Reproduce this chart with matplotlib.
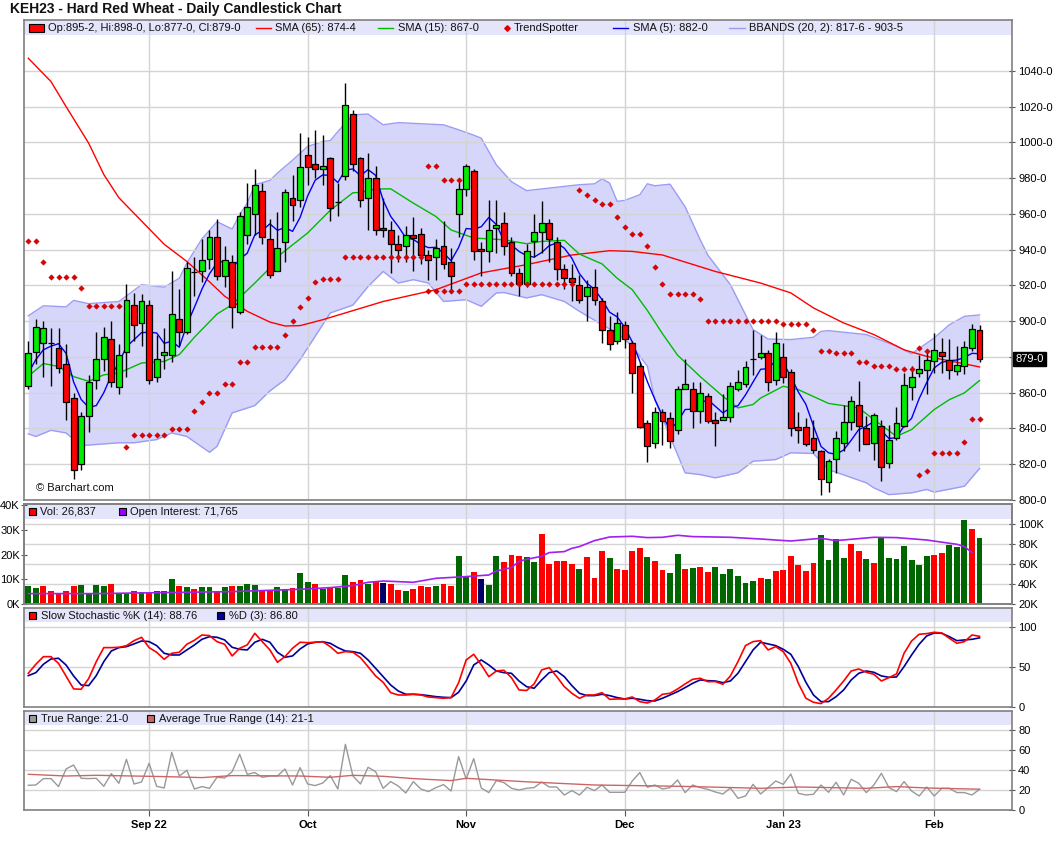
import numpy as np
import pandas as pd
import matplotlib
matplotlib.use("Agg")
import matplotlib.pyplot as plt
from matplotlib.patches import Rectangle
from matplotlib.lines import Line2D

plt.rcParams['font.family'] = ['Liberation Sans', 'DejaVu Sans']

# ---- daily candles (trading-day index 0..126) ----
opens = [864, 883, 888, 888, 885, 876, 857, 820, 847, 867, 879, 890, 863, 883, 909, 899, 909, 869, 881, 881,
         901, 894, 927.5, 928, 935, 947, 925, 933, 905, 948, 960, 973, 946, 928, 944, 969, 968, 993, 988, 985,
         991, 966.6, 981, 1016, 991, 969, 980, 952, 951, 943, 942, 948, 949, 937, 936, 942, 933, 960, 974, 984,
         940.5, 939, 952, 955, 944, 927, 921, 945, 950, 955, 944, 929, 924, 920, 914, 919, 911, 895, 889, 898,
         888, 875, 843, 832, 849, 846, 839, 862, 862, 850, 858, 845, 845, 846.5, 862, 865, 879, 880, 882, 867,
         880, 871.6, 841, 841, 834.7, 827.5, 810.2, 823, 832, 843.7, 853.4, 840.3, 832, 841.2, 820.8, 834.7, 841.6, 863, 871, 872.9,
         878, 882.8, 878.5, 872, 875.1, 885, 895.2]
highs = [889, 901, 900, 896, 896, 887, 860, 849, 870, 894, 897, 900, 887, 921, 916, 915, 912, 892, 896, 928,
         918, 933, 936, 946, 951, 957, 942, 937, 961, 977, 985, 977, 957, 961, 974, 982, 1005, 1003, 1007, 1004,
         992, 977, 1033, 1018, 992, 994, 987, 969, 956, 948, 953, 958, 952, 940, 946, 956, 941, 978, 988, 985,
         944, 968, 968, 961, 947, 930, 943, 960, 967, 957, 947, 932, 932, 926, 923, 929, 913, 903, 905, 900,
         889, 877, 845, 852, 851, 849, 864, 879, 866, 866, 860, 849, 859, 866, 872.5, 877.5, 895, 892, 884, 894,
         888, 873, 849, 846, 845, 828.2, 823, 838.8, 853.4, 858.4, 866.4, 846.8, 848.7, 845, 842.2, 851.8, 871, 874.7, 881.3, 883,
         893.4, 890.6, 890, 886.3, 888.7, 898.6, 898]
lows = [862, 876, 869, 864, 871, 845, 812, 817, 838, 862, 872, 863, 859, 869, 889, 886, 865, 866, 873, 877,
        886, 893, 914, 922, 929, 923, 919, 896, 904, 943, 948, 943, 924, 928, 933, 956, 964, 976, 980, 976,
        956, 959, 979, 984, 964, 951, 948, 947, 927, 933, 933, 928, 932, 923, 923, 929, 916, 947, 970, 934,
        925, 933, 938, 937, 925, 914, 919, 936, 938, 933, 923, 918, 911, 910, 900, 909, 888, 884, 887, 885,
        860, 840, 821, 829, 831, 829, 837, 862, 840, 843, 843, 830, 845, 843.5, 861, 863, 870, 879, 861, 864.5,
        865.5, 836, 832, 830, 826.4, 802.7, 804.4, 815.2, 827.3, 839.4, 827.3, 831.4, 822.6, 810.5, 818, 833.8, 841, 856, 869, 859,
        871, 871, 867.7, 870, 870.7, 883.5, 877]
closes = [882, 897, 896, 888, 874, 855, 817, 847, 866, 879, 891, 866, 881, 912, 898, 911, 867, 879, 883, 904,
          894, 930, 927.5, 934, 947, 925, 934, 908, 959, 964, 976, 947, 926, 941, 972, 965, 986, 986, 985, 987,
          963, 966.6, 1021, 988, 968, 980, 951, 951, 943, 940, 948, 946.5, 937, 934, 941, 932, 925, 974, 987, 939,
          939, 951, 954, 942, 927, 921, 939, 950, 955, 946, 929, 924, 922, 912, 919, 912, 895, 887, 899, 890,
          871, 841, 830, 849, 844, 833, 862, 865, 850, 860, 844, 843, 846.5, 864, 866, 874.4, 879, 882, 866, 888,
          869, 840, 839, 831.4, 828, 811.5, 822, 834.7, 843.7, 855.2, 841.2, 831.4, 847.6, 818.5, 833.4, 843.1, 864.5, 868.8, 873.5, 878.5,
          884, 880.3, 872.9, 875.7, 885.6, 895.6, 879]

# ---- overlays (index, value) ----
sma5_head = [871, 878.5, 884, 886]
sma15_idx = [0, 2, 4, 6, 8, 10, 12, 15, 18, 20, 22, 25, 27, 30, 32, 33, 37, 40, 43, 44, 46, 48, 51, 54, 56, 59, 63,
             66, 68, 71, 73, 76, 78, 80, 82, 84, 86, 89, 92, 94, 96, 97, 100, 102, 106, 110, 112, 115, 117, 120, 122, 124, 126]
sma15_val = [869.2, 876.3, 874.7, 869, 866.4, 870, 871, 876.6, 877.5, 881.3, 891, 904, 909.2, 921.3, 929.7, 936, 949.3,
             962, 971.8, 972, 973.9, 974, 966, 958.5, 951, 946.5, 945.5, 943.3, 944.6, 945.2, 937.5, 932, 924, 917.6,
             906, 893, 881, 869, 858, 851.5, 853.4, 857, 863.6, 861.7, 854, 851.5, 845, 835.6, 839.4, 850.6, 856.1, 859.9, 866.8]
sma65_idx = [0, 3, 5, 8, 10, 12, 15, 18, 21, 24, 26, 29, 32, 34, 36, 39, 47, 54, 60, 66, 72, 77, 80, 84, 91, 97,
             101, 104, 108, 112, 116, 119, 123, 126]
sma65_val = [1047, 1034, 1020, 999.5, 982, 969, 956, 943, 933.4, 922, 914, 905.5, 899.5, 897.3, 897.5, 900.8, 911, 917.6,
             927, 931.6, 937, 939.4, 939, 937, 927.8, 921.3, 915.8, 907.4, 899, 892.5, 884, 880.3, 877, 874.4]
bbu_idx = [0, 2, 5, 6, 8, 12, 15, 18, 20, 21, 23, 25, 27, 28, 29, 30, 32, 33, 35, 37, 39, 40, 41, 43, 45, 47, 49, 55,
           57, 59, 60, 62, 64, 66, 73, 75, 76, 77, 78, 79, 81, 82, 83, 85, 87, 89, 90, 93, 95, 96, 98, 101, 104, 105,
           106, 111, 115, 117, 120, 122, 124, 126]
bbu_val = [903, 908.6, 908, 911.6, 909.8, 911, 920.4, 919, 924, 932.5, 946, 955.6, 951.5, 959.5, 966, 976.3, 978.7,
           982.8, 990, 997.7, 1000.4, 1001, 1006, 1015.4, 1015.8, 1009.8, 1011, 1009.8, 1007, 1004, 1002.3, 987.4, 978,
           973, 976.3, 976.8, 979.6, 977.2, 967, 967.5, 970.7, 976.8, 975.7, 976.6, 964, 945.5, 937, 920.4, 903.6,
           895.3, 890, 889.7, 891, 894.3, 894.7, 892.5, 886, 881.8, 890.6, 898, 902.7, 903.5]
bbl_idx = [0, 1, 3, 5, 7, 12, 14, 17, 19, 21, 24, 25, 27, 30, 32, 34, 36, 40, 43, 45, 47, 49, 51, 53, 55, 58, 60,
           62, 63, 66, 68, 71, 73, 76, 78, 80, 82, 83, 85, 87, 89, 91, 94, 96, 99, 101, 104, 106, 111, 112, 114, 117,
           119, 120, 124, 126]
bbl_val = [837, 835.5, 839, 837.5, 830.4, 832, 832, 833.8, 837.5, 835.5, 826.7, 830, 848.7, 852.8, 861, 867.3, 878.5,
           904.6, 909, 919.4, 927.8, 921.3, 923.2, 921.3, 911, 912, 908.3, 915.8, 916, 913, 914.8, 911, 905.5, 898,
           893.4, 886, 874.8, 856, 835.6, 815.2, 814.2, 812.4, 815.2, 821.7, 822.6, 826.4, 826, 817, 809.6, 806.8, 803,
           804, 805.9, 804.4, 807.7, 817.6]
ts_idx = [0, 1, 2, 3, 4, 5, 6, 7, 8, 9, 10, 11, 12, 13, 14, 15, 16, 17, 18, 19, 20, 21, 22, 23, 24, 25, 26, 27, 28,
          29, 30, 31, 32, 33, 34, 35, 36, 37, 38, 39, 40, 41, 42, 43, 44, 45, 46, 47, 48, 49, 50, 51, 52,
          53, 54, 55, 56, 57, 53, 54, 55, 56, 57,
          58, 59, 60, 61, 62, 63, 64, 65, 66, 67, 68, 69, 70, 71, 72, 73, 74, 75, 76, 77, 78, 79, 80, 81, 82, 83,
          84, 85, 86, 87, 88, 89, 90, 91, 92, 93, 94, 95, 96, 97, 98, 99, 100, 101, 102, 103, 104, 105, 106, 107,
          108, 109, 110, 111, 112, 113, 114, 115, 116, 117, 118, 119, 118, 119, 120, 121, 122, 123, 124, 125, 126]
ts_val = [945, 945, 933, 924.7, 924.7, 924.7, 924.7, 918.5, 908.3, 908.3, 908.3, 908.3, 908.3, 829.7, 836.6, 836.6,
          836.6, 836.6, 836.6, 839.8, 839.8, 839.8, 849.8, 854.8, 859.9, 859.9, 864.9, 864.9, 877.2, 877.2, 885.6,
          885.6, 885.6, 885.6, 892.3, 900.3, 908, 913, 922, 923.7, 923.7, 923.7, 935.9, 935.9, 935.9, 935.9, 935.9,
          935.9, 935.9, 935.9, 935.9, 935.9, 935.9,
          916.6, 916.6, 916.6, 916.6, 916.6, 986.5, 986.5, 979, 979, 979,
          921, 921, 921, 921, 921, 921, 921, 921, 921, 921, 921, 921, 921, 921, 921, 973.5, 970.5, 968, 965.5,
          965.5, 958.2, 952.6, 949, 949, 942.2, 930.3, 920.8, 915.2, 915.2, 915.2, 915.2, 912.6, 900.3, 900.3, 900.3,
          900.3, 900.3, 900.3, 900.3, 900.3, 900.3, 900.3, 898.6, 898.6, 898.6, 898.6, 895.3, 883.5, 883.5, 882.2,
          882.2, 882.2, 877.2, 877.2, 875, 875, 875, 873.4, 873.4, 873.4, 885, 883.5, 813.7, 816, 826.4, 826.4,
          826.4, 826.4, 832.5, 845.4, 845.4]

# ---- volume (K) and open interest (K) ----
volume = [7.4, 6.6, 7.4, 5.4, 4.6, 5.4, 7.4, 7.8, 4.6, 7.8, 7.4, 8.2, 4.6, 4.2, 5.4, 5.0, 4.6, 5.4, 5.4, 10.2,
          7.4, 7.0, 6.2, 7.0, 7.0, 5.4, 7.0, 7.4, 7.4, 8.2, 7.8, 5.8, 5.4, 7.0, 6.2, 6.6, 12.6, 9.0, 8.2, 6.2,
          7.0, 6.6, 11.8, 9.0, 9.8, 8.2, 9.0, 8.6, 8.2, 5.8, 5.4, 6.2, 7.4, 7.0, 7.4, 8.2, 7.4, 19.5, 11.4, 13.0,
          10.2, 7.8, 19.5, 17.1, 19.9, 19.5, 19.1, 17.1, 28.4, 16.3, 17.5, 17.5, 16.3, 14.2, 19.1, 10.6, 21.5, 18.7, 14.2, 13.8,
          21.5, 22.7, 19.1, 17.5, 13.8, 12.6, 20.3, 14.2, 14.7, 15.1, 13.0, 15.1, 12.2, 14.2, 11.4, 8.6, 9.4, 10.6, 10.2, 13.4,
          13.8, 19.5, 15.9, 13.4, 16.7, 28.0, 17.9, 26.3, 18.7, 24.3, 21.5, 18.3, 16.7, 27.2, 18.7, 18.3, 23.5, 17.9, 15.9, 19.5,
          19.9, 20.7, 23.9, 23.1, 34.0, 30.4, 26.8]
vol_dir = ("ggrrrrrggggrggrgrgggrgrggrgrgggrrggrggrgrggrrgrnrrgrrrgrrggrnggrrrg"
           "grrrrrgrrrgrrrrgrrggrgrrggggggrgrrrrrrggggrrgrgggggggrrgggr")
oi_idx = [0, 9, 18, 27, 32, 36, 40, 43, 45, 47, 51, 54, 58, 61, 62, 64, 65, 66, 68, 69, 71, 72, 73, 75, 77, 80, 82,
          84, 86, 88, 93, 97, 101, 105, 107, 112, 115, 119, 123, 124, 125]
oi_val = [30.7, 30.7, 31.7, 32.7, 34, 35, 36.7, 38.7, 42, 43.3, 42, 46, 47.7, 49.3, 53.3, 56.7, 63, 65, 68, 71.7,
          72.7, 76, 77.7, 83.7, 87.3, 88, 86.7, 87, 89, 87.7, 87, 85.3, 83.3, 86, 83.7, 87, 86.7, 84.3, 80, 77.7, 71.8]

# ---- slow stochastic ----
stoch_k = [42.5, 53.8, 63.3, 63.3, 55, 39, 23, 22.5, 36, 57, 74.6, 74.6, 75, 77, 83.3, 87.5, 74.6, 68.8, 60, 67.5,
           68.8, 78.8, 83.8, 90.4, 89.6, 82, 78.8, 64.2, 73.8, 78, 92.5, 82, 71.7, 56.3, 63.3, 73.8, 81.3, 80.8, 81.3, 82,
           75.8, 67.5, 69.6, 68.8, 62, 50.8, 39.2, 31.3, 18.3, 15.4, 15.4, 16.3, 15.4, 12.9, 12.1, 11.3, 12.1, 30.8, 59.2, 66.3,
           53, 38.3, 45.4, 46.3, 37, 21.7, 21, 29.2, 46.7, 49.6, 38.3, 25.8, 17.5, 11.3, 15.4, 15.4, 18.3, 10, 10.4, 10.4,
           12.9, 7.1, 5.4, 9.2, 16.3, 17.5, 22.9, 29.2, 35, 36.3, 32.1, 32.1, 28.8, 39.2, 57.1, 77.1, 82.1, 83.3, 71.7, 75.8,
           69.6, 55, 30, 11.3, 6.3, 4.6, 11.3, 21.7, 32.9, 45.4, 47.9, 43.8, 41.3, 32.9, 37.1, 41.7, 67.5, 82.9, 91.3, 92.1,
           93.8, 92.9, 86.3, 80, 82.1, 90.4, 88.8]
stoch_d = [39.6, 43.3, 53.8, 60.4, 61.3, 52.9, 39.2, 27.9, 27.1, 39.6, 57.1, 70.4, 74.6, 75.8, 79.2, 82.9, 82.1, 77.1, 67.5, 65.4,
           65.4, 71.7, 77.9, 85, 88.3, 87.5, 84.2, 75, 72.5, 71.7, 81.3, 85, 81.3, 68.8, 62.5, 64.2, 72.9, 79.2, 81.3, 82,
           80, 74.6, 70.4, 69.6, 67.5, 59.2, 48.8, 38.3, 27.9, 20.4, 16.3, 16.3, 15.8, 14.6, 13.3, 12.5, 12.1, 18.8, 32.9, 52.9,
           59.2, 52.9, 45.4, 43.3, 42.5, 32.9, 25.8, 23.8, 34.2, 43.3, 45.4, 38.3, 27.1, 17.5, 14.6, 14.6, 16.3, 14.6, 12.1, 10.4,
           11.3, 10, 8.3, 7.9, 11.3, 15.4, 19.6, 24.6, 30, 34.2, 33.3, 32.9, 30.8, 32.9, 42.5, 57.1, 71.7, 81.3, 79.2, 77.1,
           72.5, 66.3, 50.8, 31.3, 15.4, 7.1, 7.1, 13.3, 21.7, 34.2, 42.5, 45.4, 43.8, 39.2, 37.5, 37.9, 50.8, 65.4, 78.8, 89.2,
           92.9, 92.5, 88.3, 83.3, 84.2, 85, 86.8]

# ---- true range / ATR ----
true_range = [25, 25.3, 31.7, 31.7, 23.7, 41.3, 45.3, 32, 31.7, 32, 24, 36.7, 27, 51, 26.3, 28.3, 47, 24, 22.3, 58,
              34.3, 40, 21.3, 23.7, 22, 33, 32.3, 38.7, 56, 36, 37.7, 33, 34.3, 34.3, 41.3, 25.3, 42.7, 26.3, 24.7, 27.3,
              34.7, 21.3, 66, 34.3, 26.3, 43, 38.7, 22, 28.7, 24.3, 17.3, 28.7, 21.3, 18.7, 22.7, 25.7, 19.3, 53.7, 31.3, 51.7,
              22.3, 17.7, 29.7, 27.7, 22, 20.3, 22, 22.7, 28.3, 23.3, 23.3, 15.3, 19.7, 15.3, 23, 19.7, 25.3, 18, 18, 18,
              29.3, 37.7, 23, 25.3, 21.3, 22.7, 30.3, 17.7, 25.3, 22.7, 21, 18.3, 16.3, 22.3, 12, 14.3, 26, 16.3, 22.7, 29.3,
              26, 36.3, 17, 15.3, 16, 25.3, 18, 28, 15.3, 31, 27, 17.7, 25.3, 37, 22.7, 18.7, 28.7, 19.3, 14.3, 23.3,
              14.3, 22, 22, 17.7, 17.7, 15.3, 21]
atr_idx = [0, 5, 9, 18, 23, 27, 36, 40, 43, 47, 51, 56, 58, 66, 75, 84, 88, 97, 102, 111, 115, 119, 126]
atr_val = [36, 34.3, 35, 33.7, 32.7, 34.7, 34.3, 33, 35, 34, 31.7, 29.7, 32, 28.5, 25.3, 24.3, 23.7, 22, 23.3, 22,
           23.7, 22.3, 21.1]

month_idx = [16, 37, 58, 79, 100, 120]
month_lbl = ["Sep 22", "Oct", "Nov", "Dec", "Jan 23", "Feb"]

# ---------------------------------------------------------------
W, H = 1060, 851
fig = plt.figure(figsize=(W / 100, H / 100), dpi=100)
GRID = "#d4d4d4"
BAND = "#e4e4fa"
SPINE = "#808080"
XLIM = (-0.57, 130.3)


def panel(top, bottom, band_px=14):
    ax = fig.add_axes([24 / W, 1 - bottom / H, (1012 - 24) / W, (bottom - top) / H])
    ax.set_xlim(*XLIM)
    for s in ax.spines.values():
        s.set_color(SPINE)
        s.set_linewidth(1.2)
    ax.set_xticks([])
    for m in month_idx:
        ax.axvline(m, color=GRID, lw=1, zorder=0.6)
    band = band_px / (bottom - top)
    ax.add_patch(Rectangle((0, 1 - band), 1, band, transform=ax.transAxes,
                           fc=BAND, ec="none", zorder=0.5))
    ax.tick_params(axis="y", direction="inout", length=5, labelsize=8, color="#555555", pad=2)
    return ax


def hgrid(ax, vals):
    for v in vals:
        ax.axhline(v, color=GRID, lw=1, zorder=0.6)


def ftext(x, y, s, **kw):
    fig.text(x / W, 1 - y / H, s, va="center", ha="left", fontsize=8, color="#111111", zorder=20, **kw)


def fsquare(x0, y0, x1, y1, color):
    fig.add_artist(Rectangle((x0 / W, 1 - y1 / H), (x1 - x0) / W, (y1 - y0) / H,
                             transform=fig.transFigure, fc=color, ec="black", lw=0.8, zorder=20))


def fline(x0, x1, y, color):
    fig.add_artist(Line2D([x0 / W, x1 / W], [1 - y / H, 1 - y / H], color=color, lw=1,
                          transform=fig.transFigure, zorder=20))


idx = np.arange(len(closes))
o = np.array(opens)
c = np.array(closes)

# ---------------- price panel ----------------
ax1 = panel(20, 500, band_px=15)
ax1.set_ylim(800, 1068.4)
price_ticks = list(range(800, 1041, 20))
hgrid(ax1, price_ticks)

xs = np.arange(0, 127)
upper = np.interp(xs, bbu_idx, bbu_val)
lower = np.interp(xs, bbl_idx, bbl_val)
ax1.fill_between(xs, lower, upper, color="#d6d6fb", lw=0, zorder=0.4)
ax1.plot(xs, upper, color="#9c9cf4", lw=1, zorder=0.45)
ax1.plot(xs, lower, color="#9c9cf4", lw=1, zorder=0.45)

sma5 = pd.Series(closes).rolling(5).mean().to_numpy()
sma5[:4] = sma5_head
ax1.plot(sma65_idx, sma65_val, color="#ff0000", lw=1, zorder=2)
ax1.plot(sma15_idx, sma15_val, color="#00bb00", lw=1, zorder=2)
ax1.plot(idx, sma5, color="#0000ee", lw=1, zorder=2)

ax1.vlines(idx, lows, highs, color="black", lw=1, zorder=3)
body_col = np.where(c > o, "#00ee00", np.where(c < o, "#ff0000", "black"))
ax1.bar(idx, np.abs(c - o), bottom=np.minimum(o, c), width=0.78, color=body_col,
        edgecolor="black", linewidth=0.9, zorder=4)
ax1.plot(ts_idx, ts_val, ls="none", marker="D", ms=2.8, color="#dd0000", mec="#bb0000", mew=0.3, zorder=5)

ax1.yaxis.tick_right()
ax1.set_yticks(price_ticks)
ax1.set_yticklabels(["" if v == 880 else f"{v}-0" for v in price_ticks])
ax1.text(1.0035, closes[-1], "879-0", transform=ax1.get_yaxis_transform(), ha="left", va="center",
         fontsize=8, color="white", bbox=dict(boxstyle="square,pad=0.18", fc="black", ec="black"), zorder=10)
ftext(36, 488, "© Barchart.com")

# ---------------- volume / open interest ----------------
ax2 = panel(504, 604.3, band_px=15)
VOL_TOP = 40.3
OI_LO, OI_HI = 20, 120.3
ax2.set_ylim(0, VOL_TOP)
hgrid(ax2, [(v - OI_LO) / (OI_HI - OI_LO) * VOL_TOP for v in (40, 60, 80, 100)])
vcol = {"g": "#006600", "r": "#ff0000", "n": "#000066"}
ax2.bar(idx, volume, width=0.78, color=[vcol[d] for d in vol_dir], zorder=2)
ax2.set_yticks([0, 10, 20, 30, 40])
ax2.set_yticklabels(["0K", "10K", "20K", "30K", "40K"])
ax2.tick_params(axis="y", pad=0.5)

ax2b = ax2.twinx()
ax2b.set_xlim(*XLIM)
ax2b.set_ylim(OI_LO, OI_HI)
ax2b.plot(oi_idx, oi_val, color="#a020f0", lw=1.2, zorder=3)
ax2b.set_yticks([20, 40, 60, 80, 100])
ax2b.set_yticklabels(["20K", "40K", "60K", "80K", "100K"])
ax2b.tick_params(axis="y", direction="inout", length=5, labelsize=8, color="#555555", pad=2)
for s in ax2b.spines.values():
    s.set_color(SPINE)
    s.set_linewidth(1.2)

# ---------------- slow stochastic ----------------
ax3 = panel(607.7, 707.3)
ax3.set_ylim(0, 124.5)
hgrid(ax3, [50, 100])
ax3.plot(idx, stoch_k, color="#ff0000", lw=1.2, zorder=3)
ax3.plot(idx, stoch_d, color="#000099", lw=1.2, zorder=2.5)
ax3.yaxis.tick_right()
ax3.set_yticks([0, 50, 100])

# ---------------- true range ----------------
ax4 = panel(710.7, 810.3)
ax4.set_ylim(0, 99.6)
hgrid(ax4, [20, 40, 60, 80])
ax4.plot(idx, true_range, color="#999999", lw=1, zorder=2)
ax4.plot(atr_idx, atr_val, color="#cc6666", lw=1, zorder=3)
ax4.yaxis.tick_right()
ax4.set_yticks([0, 20, 40, 60, 80])
ax4.set_xticks(month_idx)
ax4.set_xticklabels(month_lbl, fontweight="bold", fontsize=8)
ax4.tick_params(axis="x", direction="out", length=4, color="#555555", pad=3)

# ---------------- titles and legends ----------------
fig.text(10 / W, 1 - 8.5 / H, "KEH23 - Hard Red Wheat - Daily Candlestick Chart",
         fontsize=10, fontweight="bold", va="center", ha="left", color="#111111")

fsquare(29, 24.3, 43.7, 32, "#ff0000")
ftext(48, 28, "Op:895-2, Hi:898-0, Lo:877-0, Cl:879-0")
fline(255.7, 270.7, 28, "#ff0000")
ftext(275, 28, "SMA (65): 874-4")
fline(377.7, 393.3, 28, "#00bb00")
ftext(397.7, 28, "SMA (15): 867-0")
fig.add_artist(Line2D([507.3 / W], [1 - 28 / H], marker="D", ms=2.8, color="#dd0000",
                      ls="none", transform=fig.transFigure, zorder=20))
ftext(514, 28, "TrendSpotter")
fline(613.3, 628.3, 28, "#0000ee")
ftext(632.7, 28, "SMA (5): 882-0")
fline(729.3, 745, 28, "#9c9cf4")
ftext(749, 28, "BBANDS (20, 2): 817-6 - 903-5")

fsquare(29, 508.3, 35.7, 515, "#ff0000")
ftext(40, 511.7, "Vol: 26,837")
fsquare(119, 508.3, 125.7, 515, "#9900ff")
ftext(130, 511.7, "Open Interest: 71,765")

fsquare(29, 612.3, 35.7, 619, "#ff0000")
ftext(40.7, 615.7, "Slow Stochastic %K (14): 88.76")
fsquare(217.3, 612.3, 224, 619, "#000099")
ftext(228.7, 615.7, "%D (3): 86.80")

fsquare(29, 715, 35.7, 722, "#999999")
ftext(40.7, 718.5, "True Range: 21-0")
fsquare(147.3, 715, 154, 722, "#cc6666")
ftext(159, 718.5, "Average True Range (14): 21-1")

fig.savefig("out.png", dpi=100)
